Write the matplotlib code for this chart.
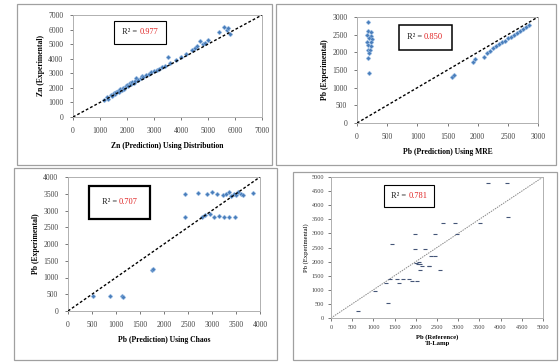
import matplotlib
matplotlib.use("Agg")
import matplotlib.pyplot as plt
from matplotlib.patches import Rectangle
from matplotlib.offsetbox import TextArea, HPacker, AnchoredOffsetbox

plt.rcParams['font.family'] = ['Liberation Serif', 'DejaVu Serif']

# top left: Zn, distribution
x_tl = [1150, 1250, 1300, 1400, 1450, 1500, 1550, 1600, 1650, 1700, 1750, 1800, 1850,
        1900, 1950, 2000, 2050, 2100, 2150, 2200, 2250, 2300, 2350, 2400, 2500, 2550,
        2600, 2700, 2800, 2900, 3000, 3100, 3200, 3300, 3400, 3530, 3600, 3800, 4000,
        4200, 4400, 4500, 4600, 4700, 4800, 4900, 5000, 5400, 5600, 5700, 5750, 5800]
y_tl = [1200, 1350, 1250, 1500, 1450, 1650, 1600, 1700, 1800, 1750, 1900, 1850, 2000,
        1950, 2100, 2200, 2150, 2300, 2250, 2400, 2350, 2500, 2700, 2550, 2650, 2800,
        2750, 2900, 2950, 3100, 3150, 3250, 3300, 3450, 3500, 4130, 3700, 3900, 4100,
        4300, 4600, 4750, 4900, 5200, 5000, 5100, 5300, 5850, 6200, 5950, 6100, 5700]

# top right: Pb, MRE
x_tr = [190, 180, 230, 170, 240, 200, 250, 170, 230, 190, 240, 180, 220, 200, 190, 200,
        1570, 1600, 1930, 1960, 2100, 2150, 2200, 2250, 2300, 2350, 2400, 2450, 2500,
        2550, 2600, 2650, 2700, 2750, 2800, 2850]
y_tr = [2870, 2590, 2570, 2490, 2470, 2400, 2380, 2300, 2280, 2200, 2170, 2080, 2060,
        1970, 1830, 1410,
        1310, 1350, 1740, 1800, 1880, 1980, 2050, 2120, 2180, 2230, 2300, 2330, 2400,
        2440, 2500, 2560, 2610, 2650, 2720, 2760]

# bottom left: Pb, chaos
x_bl = [520, 875, 1125, 1150, 1750, 1780, 2440, 2700, 2900, 3000, 3100, 3230, 3300,
        3350, 3400, 3450, 3500, 3550, 3600, 3650, 3850, 2440, 2790, 2850, 2950, 3050,
        3150, 3250, 3350, 3480]
y_bl = [450, 450, 450, 420, 1220, 1250, 3500, 3520, 3480, 3550, 3500, 3450, 3500,
        3550, 3420, 3500, 3470, 3550, 3500, 3450, 3520, 2800, 2820, 2880, 2900, 2800,
        2850, 2800, 2820, 2800]

# bottom right: Pb reference
x_br = [645, 1038, 1352, 1431, 1392, 1550, 1700, 1850, 2021, 1600, 1981, 1981, 2217,
        2453, 2000, 2050, 2080, 2100, 2099, 2300, 2350, 2453, 2300, 2571, 2649, 2925,
        2964, 3514, 3710, 4143, 4182, 1300, 1900, 2150]
y_br = [248, 957, 543, 2635, 1394, 1394, 1394, 1394, 1300, 1252, 2989, 2436, 2436,
        2989, 1950, 1900, 2000, 1920, 1691, 1844, 2199, 2199, 1844, 1691, 3380, 3380,
        2989, 3380, 4798, 4798, 3582, 1252, 1300, 1850]

r2 = ["0.977", "0.850", "0.707", "0.781"]
xlabels = ["Zn (Prediction) Using Distribution", "Pb (Prediction) Using MRE",
           "Pb (Prediction) Using Chaos", "Pb (Reference)\nTi-Lamp"]
ylabels = ["Zn (Experimental)", "Pb (Experimental)", "Pb (Experimental)",
           "Pb (Experimental)"]

W, H = 560, 362
fig = plt.figure(figsize=(5.6, 3.62), dpi=100)

def fr(x0, y0, x1, y1):
    # pixel box -> figure fraction rect
    return [x0 / W, 1 - y1 / H, (x1 - x0) / W, (y1 - y0) / H]

# panel frames
for box in [(17, 4, 272, 165), (276, 4, 556, 165), (14, 168, 277, 360), (293, 172, 557, 360)]:
    r = fr(*box)
    fig.add_artist(Rectangle(r[:2], r[2], r[3], transform=fig.transFigure,
                             fill=False, ec='#a0a0a0', lw=0.9))

ax1 = fig.add_axes(fr(73, 15, 262, 117))
ax2 = fig.add_axes(fr(357, 17, 538, 123))
ax3 = fig.add_axes(fr(68, 177, 260, 311))
ax4 = fig.add_axes(fr(331, 177, 543, 318))

def style(ax, lim, step, xl, yl, pad=5):
    ax.set_xlim(0, lim)
    ax.set_ylim(0, lim)
    ax.set_xticks(range(0, lim + 1, step))
    ax.set_yticks(range(0, lim + 1, step))
    ax.tick_params(labelsize=5.5, length=2, width=0.5, colors='#444444', pad=pad)
    for s in ax.spines.values():
        s.set_color('#b0b0b0')
        s.set_linewidth(0.7)
    ax.set_xlabel(xl, fontsize=5.5, fontweight='bold', labelpad=5)
    ax.set_ylabel(yl, fontsize=5.5, fontweight='bold', labelpad=2)

def r2box(ax, val, x, y, pad, lw):
    parts = HPacker(children=[TextArea("R² = ", textprops=dict(color='#222222', fontsize=6)),
                              TextArea(val, textprops=dict(color='#e02020', fontsize=6))],
                    align='center', pad=0, sep=0)
    box = AnchoredOffsetbox(loc='center', child=parts, pad=pad, borderpad=0, frameon=True,
                            bbox_to_anchor=(x, y), bbox_transform=ax.transAxes)
    box.patch.set_edgecolor('black')
    box.patch.set_linewidth(lw)
    ax.add_artist(box)

blue = '#4a7ebb'
mk = dict(s=6, marker='D', color=blue, edgecolors='#a8c8ec', lw=0.3, zorder=2)
dash = dict(color='black', ls=(0, (2, 1.5)), lw=1.0, zorder=3)

ax1.plot([0, 7000], [0, 7000], **dash)
ax1.scatter(x_tl, y_tl, **mk)
style(ax1, 7000, 1000, xlabels[0], ylabels[0])
r2box(ax1, r2[0], 0.354, 0.83, 0.55, 0.8)

ax2.plot([0, 3000], [0, 3000], **dash)
ax2.scatter(x_tr, y_tr, **mk)
style(ax2, 3000, 500, xlabels[1], ylabels[1])
r2box(ax2, r2[1], 0.376, 0.807, 0.6, 1.1)

ax3.plot([0, 4000], [0, 4000], **dash)
ax3.scatter(x_bl, y_bl, **mk)
style(ax3, 4000, 500, xlabels[2], ylabels[2])
r2box(ax3, r2[2], 0.27, 0.81, 0.9, 1.6)

ax4.plot([0, 5000], [0, 5000], color='#888888', ls=(0, (1.5, 1)), lw=0.7, zorder=1)
ax4.scatter(x_br, y_br, s=9, marker='_', color='#445577', lw=0.8, zorder=2)
style(ax4, 5000, 500, xlabels[3], ylabels[3], pad=3)
ax4.tick_params(labelsize=4.5)
ax4.xaxis.label.set_fontsize(4.8)
ax4.yaxis.label.set_fontsize(4.8)
ax4.yaxis.label.set_fontweight('normal')
ax4.xaxis.labelpad = 3
r2box(ax4, r2[3], 0.368, 0.865, 0.5, 0.8)

fig.savefig("out.png", dpi=100)
